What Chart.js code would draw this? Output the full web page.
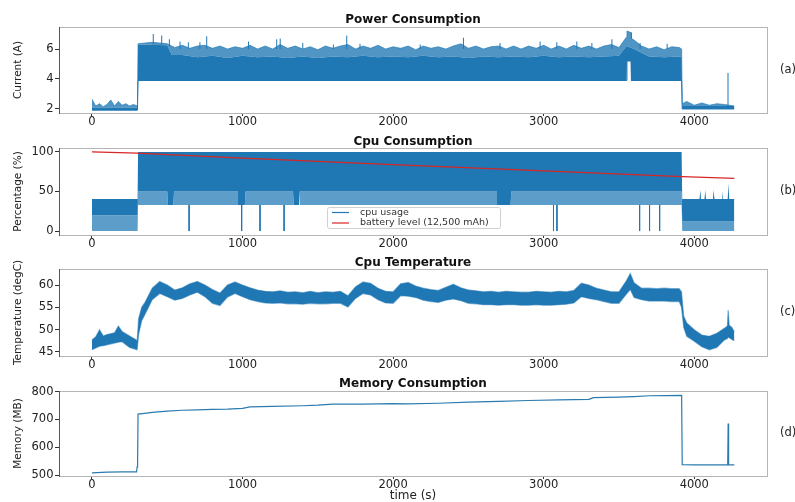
<!DOCTYPE html>
<html>
<head>
<meta charset="utf-8">
<script src="https://cdn.jsdelivr.net/npm/chart.js@4.4.1/dist/chart.umd.min.js"></script>
<style>
  html, body { margin: 0; padding: 0; background: #fff; overflow: hidden; }
  #fig { position: relative; width: 795px; height: 502px; }
  #fig canvas { position: absolute; left: 0; }
</style>
</head>
<body>
<div id="fig">
  <canvas id="powerChart" width="795" height="133" style="top:0px"></canvas>
  <canvas id="cpuChart" width="795" height="129" style="top:126px"></canvas>
  <canvas id="tempChart" width="795" height="128" style="top:248px"></canvas>
  <canvas id="memChart" width="795" height="132" style="top:370px"></canvas>
</div>
<script>
// ---- data ----
const timeTicks = [0, 1000, 2000, 3000, 4000];

// (a) current: top of the spiky comb, top of the solid part, bottom edge, tall spikes
const powerTime = [0, 25, 50, 75, 100, 125, 150, 175, 200, 225, 250, 275, 302, 306,
  350, 400, 450, 500, 550, 600, 650, 700, 750, 800, 850, 900, 950, 1000, 1050, 1100, 1150, 1200,
  1250, 1300, 1350, 1400, 1450, 1500, 1550, 1600, 1650, 1700, 1750, 1800, 1850, 1900, 1950, 2000,
  2050, 2100, 2150, 2200, 2250, 2300, 2350, 2400, 2450, 2500, 2550, 2600, 2650, 2700, 2750, 2800,
  2850, 2900, 2950, 3000, 3050, 3100, 3150, 3200, 3250, 3300, 3350, 3400, 3450, 3500, 3550,
  3553, 3580, 3583, 3600, 3650, 3700, 3750, 3800, 3850, 3900, 3916, 3920,
  3950, 4000, 4050, 4100, 4150, 4200, 4266];
const currentHigh = [2.65, 2.2, 2.35, 2.15, 2.3, 2.6, 2.2, 2.5, 2.25, 2.35, 2.2, 2.3, 2.2, 6.35,
  6.4, 6.45, 6.4, 6.35, 6.1, 6.25, 6.05, 6.2, 6.25, 6.05, 6.2, 6.0, 6.15, 6.05, 6.25, 6.0, 6.2, 6.0,
  6.3, 6.05, 6.2, 6.0, 6.15, 5.95, 6.2, 6.05, 6.2, 6.3, 6.0, 6.2, 6.05, 6.25, 6.0, 6.15,
  6.05, 6.2, 5.95, 6.2, 6.05, 6.15, 6.0, 6.2, 6.35, 6.05, 6.2, 6.0, 6.15, 6.2, 6.0, 6.2,
  6.0, 6.2, 6.05, 6.25, 6.0, 6.2, 6.0, 6.25, 6.05, 6.2, 6.0, 6.2, 6.3, 6.1, 6.8,
  7.2, 7.1, 6.7, 6.6, 6.2, 6.0, 6.15, 5.95, 6.15, 6.1, 6.0, 2.35,
  2.5, 2.25, 2.4, 2.25, 2.35, 2.3, 2.2];
const powerBulkTime = [0, 302, 306, 500, 530, 600, 700, 800, 900, 1000, 1100, 1200, 1300, 1400,
  1500, 1600, 1700, 1800, 1900, 2000, 2100, 2200, 2300, 2400, 2500, 2600, 2700, 2800, 2900,
  3000, 3100, 3200, 3300, 3400, 3500, 3550, 3600, 3700, 3800, 3900, 3916, 3920, 4266];
const currentBulk = [2.1, 2.1, 6.3, 6.25, 5.6, 5.6, 5.45, 5.55, 5.4, 5.55, 5.45, 5.5, 5.4, 5.5,
  5.4, 5.5, 5.45, 5.55, 5.45, 5.5, 5.45, 5.55, 5.45, 5.5, 5.4, 5.5, 5.45, 5.5, 5.45,
  5.55, 5.45, 5.5, 5.45, 5.5, 5.55, 6.2, 6.0, 5.5, 5.45, 5.5, 5.5, 2.2, 2.2];
const powerLowTime = [0, 302, 306, 3550, 3553, 3580, 3583, 3916, 3920, 4266];
const currentLow = [1.92, 1.92, 3.9, 3.9, 5.2, 5.2, 3.9, 3.9, 2.0, 2.0];
const currentSpikeTime = [407, 463, 514, 585, 640, 717, 762, 1040, 1227, 1250, 1400, 1603, 1692,
  1780, 2180, 2467, 2710, 2976, 3087, 3220, 3320, 3453, 3640, 3820, 4224];
const currentSpikeBase = [6.3, 6.3, 6.2, 6.0, 6.0, 6.0, 6.0, 6.0, 6.0, 6.0, 6.0, 6.0, 6.0,
  6.0, 6.0, 6.0, 6.0, 6.0, 6.0, 6.0, 6.0, 6.0, 6.0, 6.0, 2.2];
const currentSpikePeak = [7.0, 6.9, 6.65, 6.5, 6.45, 6.45, 6.85, 6.5, 6.65, 6.7, 6.4, 6.3, 6.9,
  6.35, 6.3, 6.75, 6.4, 6.5, 6.45, 6.5, 6.4, 6.65, 6.4, 6.35, 4.4];

// (b) cpu usage band (solid part and striped part) + battery
const cpuTime = [0, 303, 306, 3916, 3920, 4035, 4040, 4045, 4068, 4073, 4078, 4124, 4129, 4134,
  4179, 4184, 4189, 4222, 4227, 4232, 4266];
const cpuHigh = [40.5, 40.5, 100, 100, 40.5, 40.5, 52, 40.5, 40.5, 52, 40.5, 40.5, 52, 40.5,
  40.5, 52, 40.5, 40.5, 60, 40.5, 40.5];
const cpuMidTime = [0, 303, 306, 500, 505, 540, 545, 970, 975, 1015, 1020, 1335, 1340, 1375, 1380,
  2690, 2695, 2780, 2785, 3916, 3920, 4266];
const cpuMid = [20, 20, 50, 50, 33, 33, 50, 50, 33, 33, 50, 50, 33, 33, 50,
  50, 33, 33, 50, 50, 12, 12];
const cpuLowTime = [0, 303, 306, 3916, 3920, 4266];
const cpuLow = [0, 0, 33, 33, 0, 0];
const cpuDropTimes = [645, 994, 1116, 1276, 3065, 3088, 3637, 3703, 3770];
const batteryTime = [0, 300, 1000, 2000, 3000, 3920, 4266];
const batteryPct = [100, 98.5, 92.3, 84, 76, 68.7, 66.7];

// (c) cpu temperature band
const tempTime = [0, 25, 50, 75, 100, 150, 175, 200, 250, 290, 300, 310, 330, 350,
  400, 450, 500, 550, 600, 650, 700, 750, 800, 850, 900, 950, 1000, 1050, 1100, 1150, 1200,
  1250, 1300, 1350, 1400, 1450, 1500, 1550, 1600, 1650, 1700, 1750, 1800, 1850, 1900, 1950, 2000,
  2050, 2100, 2150, 2200, 2250, 2300, 2350, 2400, 2450, 2500, 2550, 2600, 2650, 2700, 2750, 2800,
  2850, 2900, 2950, 3000, 3050, 3100, 3150, 3200, 3250, 3300, 3350, 3400, 3450, 3500, 3550,
  3575, 3600, 3650, 3700, 3750, 3800, 3850, 3900, 3915, 3930, 3950, 4000, 4050, 4100, 4150,
  4200, 4220, 4225, 4232, 4250, 4266];
const tempHigh = [47.7, 48.4, 50.0, 48.6, 48.9, 49.3, 50.8, 49.6, 48.6, 47.8, 47.5, 52.5, 55.0, 56.0,
  59.3, 60.8, 60.0, 58.9, 59.4, 60.3, 60.8, 60.0, 59.0, 58.2, 60.0, 60.7, 60.0, 59.4, 58.9, 58.6, 58.5,
  58.7, 58.4, 58.5, 58.3, 58.6, 58.3, 58.5, 58.4, 58.6, 57.6, 59.6, 60.7, 60.4, 59.3, 58.6, 58.5,
  60.3, 60.6, 59.8, 59.3, 59.0, 58.8, 59.5, 60.2, 59.4, 58.9, 58.7, 58.5, 58.6, 58.4, 58.6, 58.5,
  58.4, 58.4, 58.6, 58.5, 58.4, 58.6, 58.5, 58.8, 60.4, 60.0, 59.3, 58.9, 58.5, 58.5, 61.0,
  62.6, 60.5, 59.3, 59.3, 59.2, 59.3, 59.2, 59.2, 58.5, 53.0, 51.5, 50.0, 48.8, 48.5, 49.2,
  50.3, 50.8, 54.4, 51.0, 50.5, 49.5];
const tempLow = [45.5, 45.9, 46.3, 46.4, 46.6, 47.0, 47.2, 47.3, 46.0, 45.6, 45.5, 49.0, 52.0, 53.3,
  56.7, 58.1, 57.4, 56.6, 57.0, 57.8, 58.4, 57.4, 55.9, 55.4, 57.3, 58.1, 57.4, 56.7, 56.3, 56.0, 55.9,
  56.0, 55.8, 55.8, 55.7, 55.9, 55.8, 55.8, 55.9, 55.9, 55.1, 57.0, 58.1, 57.8, 56.7, 56.0, 55.9,
  57.6, 57.5, 57.2, 56.6, 56.3, 56.1, 56.6, 56.9, 56.5, 55.9, 55.8, 55.6, 55.6, 55.5, 55.6, 55.6,
  55.5, 55.5, 55.6, 55.5, 55.5, 55.6, 55.7, 56.0, 57.4, 57.0, 56.7, 56.3, 55.9, 55.9, 58.0,
  59.0, 57.2, 56.7, 56.4, 56.4, 56.4, 56.3, 56.3, 55.0, 50.5, 48.5, 47.4, 46.2, 45.5, 46.0,
  47.7, 48.0, 48.3, 48.2, 47.8, 47.5];

// (d) memory
const memTime = [0, 100, 200, 296, 300, 303, 306, 350, 400, 500, 600, 700, 800, 900, 1000,
  1050, 1200, 1400, 1500, 1600, 1800, 2000, 2100, 2300, 2500, 2700, 2900, 3100, 3300,
  3330, 3500, 3600, 3700, 3916, 3920, 4000, 4222, 4225, 4228, 4266];
const memoryMB = [508, 511, 512, 512, 530, 545, 719, 722, 725, 730, 733, 734, 736, 737, 740,
  745, 747, 749, 751, 755, 755, 757, 756, 758, 762, 765, 768, 770, 772,
  778, 780, 782, 785, 786, 538, 537, 537, 685, 537, 537];

// ---- helpers ----
const BLUE = '#1f77b4';
const RED = '#d62728';
Chart.defaults.font.family = '"DejaVu Sans", sans-serif';
Chart.defaults.color = '#222';

const pts = (xs, ys) => xs.map((x, i) => ({ x: x, y: ys[i] }));

// vertical segments, one per time, broken by nulls
function needles(times, from, to) {
  const out = [];
  times.forEach((t, i) => {
    const a = Array.isArray(from) ? from[i] : from;
    const b = Array.isArray(to) ? to[i] : to;
    out.push({ x: t, y: a }, { x: t, y: b }, { x: t, y: null });
  });
  return out;
}

function xAxis(withTitle) {
  return {
    type: 'linear', min: -219, max: 4483,
    afterBuildTicks: s => { s.ticks = timeTicks.map(v => ({ value: v })); },
    afterFit: s => { s.height = withTitle ? 26 : 20; },
    grid: { drawOnChartArea: false, drawTicks: true, tickLength: 3, color: '#333' },
    border: { display: false },
    ticks: { padding: 0, maxRotation: 0, font: { size: 11.5, lineHeight: 1 }, callback: v => String(v) },
    title: { display: withTitle, text: 'time (s)', font: { size: 12, lineHeight: 1 }, padding: { top: 0, bottom: 0.5 } }
  };
}

function yAxis(label, min, max, tickVals) {
  return {
    min: min, max: max,
    afterBuildTicks: s => { s.ticks = tickVals.map(v => ({ value: v })); },
    afterFit: s => { s.width = 59; },
    grid: { drawOnChartArea: false, drawTicks: true, tickLength: 4, color: '#333' },
    border: { display: false },
    ticks: { padding: 1.5, font: { size: 11.5 }, callback: v => String(v) },
    title: { display: true, text: label, font: { size: 10.5 }, padding: { top: 12.2, bottom: 0 } }
  };
}

function titleOpts(text, padTop, padBottom) {
  return {
    display: true, text: text, fullSize: false, color: '#111',
    font: { size: 12, weight: 'bold', lineHeight: 1 },
    padding: { top: padTop, bottom: padBottom }
  };
}

// frame around the axes + the (a)/(b)... tag on the right
const panelFrame = {
  id: 'panelFrame',
  afterDraw(chart, args, opts) {
    const { ctx, chartArea: a } = chart;
    ctx.save();
    ctx.lineWidth = 1;
    ctx.strokeStyle = '#b5b5b5';
    ctx.strokeRect(a.left + 0.5, a.top + 0.5, a.right - a.left, a.bottom - a.top);
    ctx.strokeStyle = '#555';
    ctx.beginPath();
    ctx.moveTo(a.left + 0.5, a.top);
    ctx.lineTo(a.left + 0.5, a.bottom + 1);
    ctx.stroke();
    if (opts.tag) {
      ctx.fillStyle = '#222';
      ctx.font = '11.5px "DejaVu Sans"';
      ctx.textBaseline = 'middle';
      ctx.fillText(opts.tag, 780, (a.top + a.bottom) / 2);
    }
    ctx.restore();
  }
};
Chart.register(panelFrame);

const baseOpts = {
  responsive: false,
  animation: false,
  events: [],
  layout: { padding: { left: 0, right: 28, top: 0, bottom: 0 } },
  elements: { point: { radius: 0 }, line: { tension: 0 } }
};

// (a) Power Consumption
new Chart(document.getElementById('powerChart'), {
  type: 'line',
  data: {
    datasets: [
      { data: pts(powerTime, currentHigh), borderColor: 'rgba(31,119,180,0.8)', borderWidth: 0.8, backgroundColor: 'rgba(31,119,180,0.78)', fill: '+1' },
      { data: pts(powerBulkTime, currentBulk), borderWidth: 0, backgroundColor: BLUE, fill: '+1' },
      { data: pts(powerLowTime, currentLow), borderColor: BLUE, borderWidth: 1, fill: false },
      { data: needles(currentSpikeTime, currentSpikeBase, currentSpikePeak), borderColor: BLUE, borderWidth: 1, fill: false, spanGaps: false }
    ]
  },
  options: Object.assign({}, baseOpts, {
    scales: { x: xAxis(false), y: yAxis('Current (A)', 1.73, 7.47, [2, 4, 6]) },
    plugins: {
      legend: { display: false },
      tooltip: { enabled: false },
      title: titleOpts('Power Consumption', 14, 1),
      panelFrame: { tag: '(a)' }
    }
  })
});

// (b) Cpu Consumption
const cpuLegend = {
  id: 'cpuLegend',
  afterDraw(chart) {
    const { ctx, chartArea: a } = chart;
    const items = chart.data.datasets.filter(d => d.label);
    const w = 173, h = 21;
    const x0 = Math.round((a.left + a.right) / 2 - w / 2);
    const y0 = a.bottom - 7 - h;
    ctx.save();
    ctx.fillStyle = 'rgba(255,255,255,0.8)';
    ctx.strokeStyle = '#d0d0d0';
    ctx.lineWidth = 1;
    ctx.beginPath();
    ctx.roundRect(x0 + 0.5, y0 + 0.5, w, h, 2);
    ctx.fill();
    ctx.stroke();
    ctx.font = '9.5px "DejaVu Sans"';
    ctx.textBaseline = 'middle';
    items.forEach((d, i) => {
      const yy = y0 + 5.5 + i * 10.5;
      ctx.strokeStyle = d.legendColor;
      ctx.lineWidth = 1.2;
      ctx.beginPath();
      ctx.moveTo(x0 + 5, yy);
      ctx.lineTo(x0 + 22, yy);
      ctx.stroke();
      ctx.fillStyle = '#333';
      ctx.fillText(d.label, x0 + 33, yy);
    });
    ctx.restore();
  }
};

new Chart(document.getElementById('cpuChart'), {
  type: 'line',
  data: {
    datasets: [
      { label: 'cpu usage', legendColor: BLUE, data: pts(cpuTime, cpuHigh), borderWidth: 0, backgroundColor: BLUE, fill: '+1' },
      { data: pts(cpuMidTime, cpuMid), borderWidth: 0, backgroundColor: 'rgba(31,119,180,0.72)', fill: '+1' },
      { data: pts(cpuLowTime, cpuLow), borderWidth: 0, fill: false },
      { data: needles(cpuDropTimes, 33, 0), borderColor: BLUE, borderWidth: 1, fill: false, spanGaps: false },
      { label: 'battery level (12,500 mAh)', legendColor: RED, data: pts(batteryTime, batteryPct), borderColor: RED, borderWidth: 1.3, fill: false, order: -1 }
    ]
  },
  options: Object.assign({}, baseOpts, {
    scales: { x: xAxis(false), y: yAxis('Percentage (%)', -5, 105, [0, 50, 100]) },
    plugins: {
      legend: { display: false },
      tooltip: { enabled: false },
      title: titleOpts('Cpu Consumption', 9.5, 0.5),
      panelFrame: { tag: '(b)' }
    }
  }),
  plugins: [cpuLegend]
});

// (c) Cpu Temperature
new Chart(document.getElementById('tempChart'), {
  type: 'line',
  data: {
    datasets: [
      { data: pts(tempTime, tempHigh), borderColor: 'rgba(31,119,180,0.5)', borderWidth: 1.2, backgroundColor: BLUE, fill: '+1' },
      { data: pts(tempTime, tempLow), borderColor: 'rgba(31,119,180,0.5)', borderWidth: 1.2, fill: false }
    ]
  },
  options: Object.assign({}, baseOpts, {
    scales: { x: xAxis(false), y: yAxis('Temperature (degC)', 44.1, 63.6, [45, 50, 55, 60]) },
    plugins: {
      legend: { display: false },
      tooltip: { enabled: false },
      title: titleOpts('Cpu Temperature', 9, 0),
      panelFrame: { tag: '(c)' }
    }
  })
});

// (d) Memory Consumption
new Chart(document.getElementById('memChart'), {
  type: 'line',
  data: {
    datasets: [
      { data: pts(memTime, memoryMB), borderColor: '#2b7bb0', borderWidth: 1.2, fill: false }
    ]
  },
  options: Object.assign({}, baseOpts, {
    scales: { x: xAxis(true), y: yAxis('Memory (MB)', 497, 802, [500, 600, 700, 800]) },
    plugins: {
      legend: { display: false },
      tooltip: { enabled: false },
      title: titleOpts('Memory Consumption', 8.3, 0.7),
      panelFrame: { tag: '(d)' }
    }
  })
});
</script>
</body>
</html>
